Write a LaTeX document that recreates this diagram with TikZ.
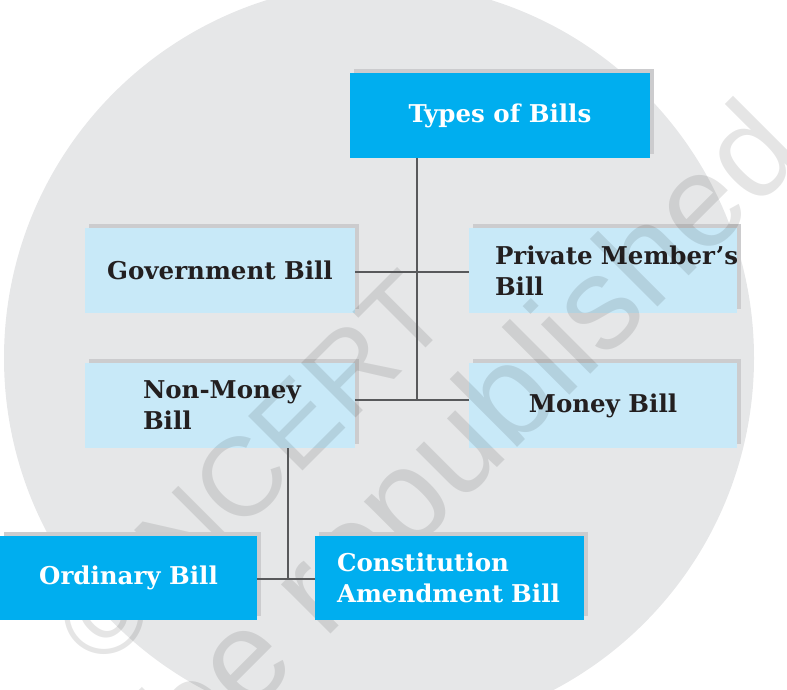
\documentclass[tikz,border=0pt]{standalone}
\usepackage{fontspec}
\setmainfont{DejaVu Serif}
\newfontfamily\wmfont{Liberation Sans}
\usetikzlibrary{shadows}
\definecolor{circgray}{RGB}{230,231,232}
\definecolor{darkbox}{RGB}{0,174,239}
\definecolor{lightbox}{RGB}{200,233,248}
\definecolor{shadowgray}{RGB}{204,204,206}
\definecolor{linegray}{RGB}{88,89,91}
\definecolor{txtdark}{RGB}{35,31,32}
\begin{document}
\begin{tikzpicture}[x=1pt,y=-1pt,
  basebox/.style={rectangle, inner sep=0pt, align=center,
    font=\fontsize{24.5}{31}\selectfont\bfseries,
    drop shadow={shadow xshift=4pt, shadow yshift=4pt, fill=shadowgray, opacity=1}},
  darkb/.style={basebox, fill=darkbox, text=white},
  lightb/.style={basebox, fill=lightbox, text=txtdark},
  leftb/.style={align=left, inner xsep=#1},
  conn/.style={draw=linegray, line width=2pt},
  wm/.style={font=\wmfont\fontsize{#1}{#1}\selectfont, text=black, text opacity=0.1,
    anchor=base west, inner sep=0pt}]
\useasboundingbox (0,0) rectangle (787,690);
\clip (0,0) rectangle (787,690);
\fill[circgray] (379,358) circle[radius=375];

% light boxes
\node[lightb, minimum width=270, minimum height=85] (gov) at (220,270.5) {Government Bill};
\node[lightb, leftb=26, text width=216, minimum width=268, minimum height=85] (pmb) at (603,270.5)
  {\mbox{Private Member's}\\Bill};
\node[lightb, leftb=58, text width=154, minimum width=270, minimum height=85] (nmb) at (220,405.5)
  {\mbox{Non-Money}\\Bill};
\node[lightb, minimum width=268, minimum height=85] (mb) at (603,405.5) {Money Bill};

% watermark
\node[wm=112, rotate=45] (wm1) at (102,672) {© NCERT};
\node[wm=132, rotate=45] (wm2) at (195,770) {be republished};

% dark boxes
\node[darkb, minimum width=300, minimum height=85] (types) at (500,115.5) {Types of Bills};
\node[darkb, minimum width=257, minimum height=84] (ord) at (128.5,578) {Ordinary Bill};
\node[darkb, leftb=22, text width=225, minimum width=269, minimum height=84] (cab) at (449.5,578)
  {\mbox{Constitution}\\\mbox{Amendment Bill}};

% connectors
\coordinate (j1) at (417,272);
\coordinate (j2) at (417,400);
\coordinate (j3) at (288,579);
\draw[conn] (types.south -| j2) -- (j2);
\draw[conn] (gov.east |- j1) -- (pmb.west |- j1);
\draw[conn] (nmb.east |- j2) -- (mb.west |- j2);
\draw[conn] (nmb.south -| j3) -- (j3);
\draw[conn] (ord.east |- j3) -- (cab.west |- j3);
\end{tikzpicture}
\end{document}
